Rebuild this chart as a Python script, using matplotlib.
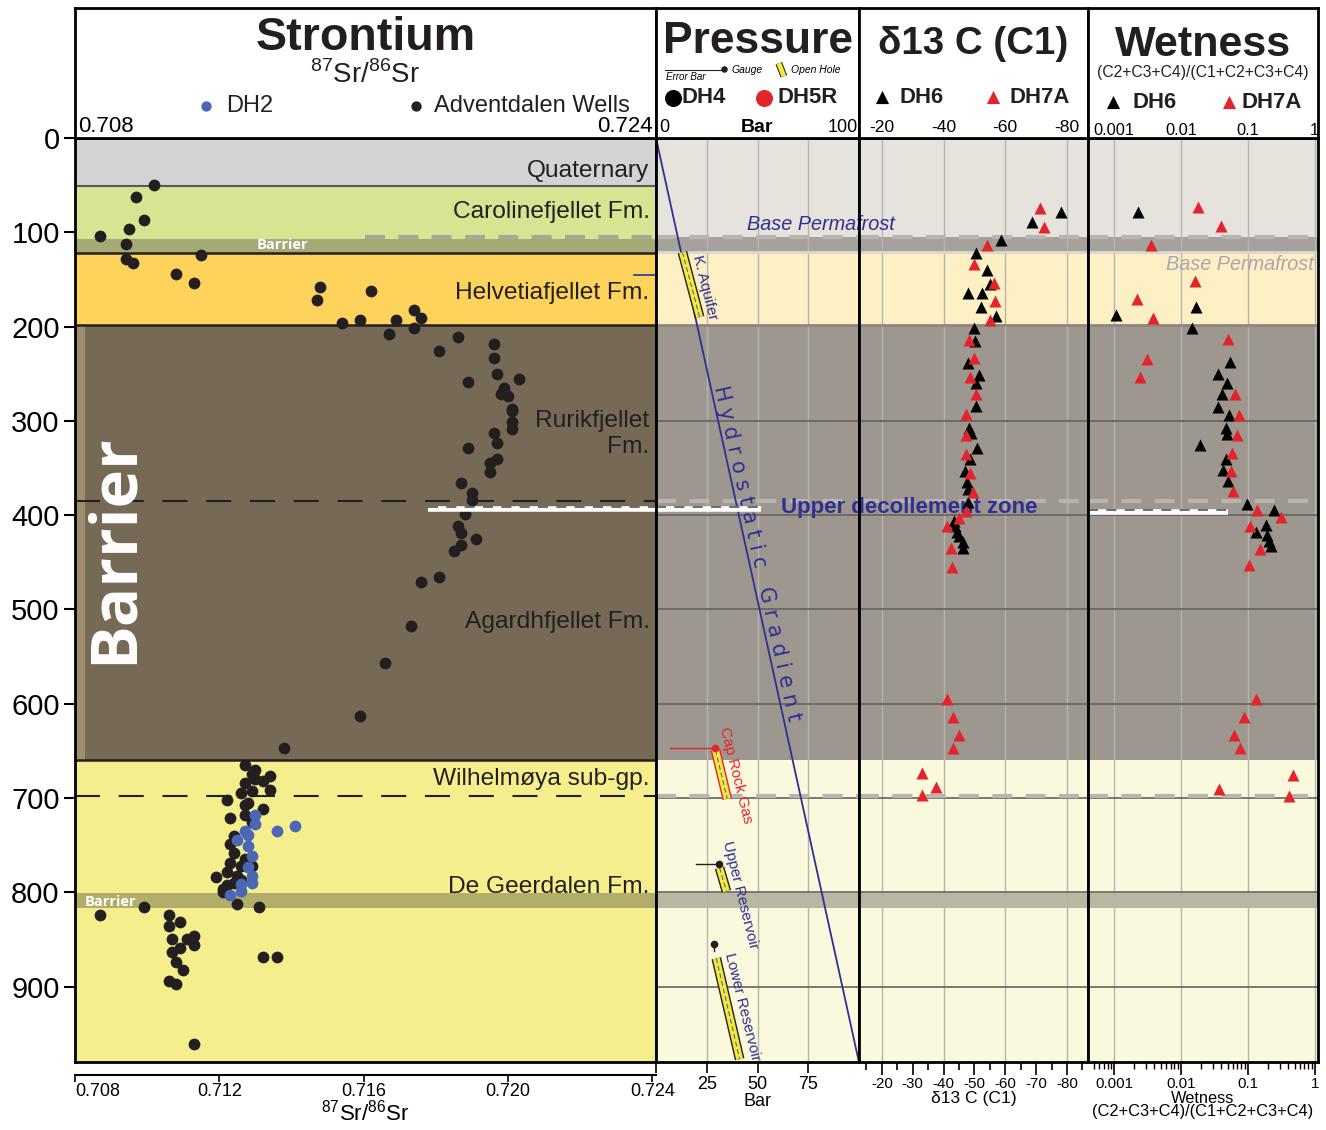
import numpy as np
import matplotlib
matplotlib.use('Agg')
import matplotlib.pyplot as plt
import matplotlib.transforms as mtransforms
import matplotlib.patheffects as pe
from matplotlib import font_manager

# fonts: condensed family for titles / formation names if it exists
names = set(f.name for f in font_manager.fontManager.ttflist)
NARROW = 'Liberation Sans Narrow' in names
COND = 'Liberation Sans Narrow' if NARROW else 'Liberation Sans'
def fs(size):
    return size if NARROW else size * 0.84

plt.rcParams['font.family'] = ['Liberation Sans', 'DejaVu Sans']
plt.rcParams['mathtext.fontset'] = 'custom'
plt.rcParams['mathtext.rm'] = 'Liberation Sans'

# ---------------- data ----------------
DEPTH_MAX = 980
depth_ticks = [0, 100, 200, 300, 400, 500, 600, 700, 800, 900]

# 87Sr/86Sr, Adventdalen wells
sr_adv_ratio = [0.7102, 0.7097, 0.7099, 0.7095, 0.7087, 0.7094, 0.7094, 0.7096, 0.7115, 0.7108,
                0.7113, 0.7148, 0.7147, 0.7162, 0.7154, 0.7159, 0.7169, 0.7174, 0.7176, 0.7174,
                0.7167, 0.7181, 0.7186, 0.7196, 0.7196, 0.7189, 0.7197, 0.7203, 0.7199, 0.7198,
                0.7200, 0.7201, 0.7201, 0.7201, 0.7201, 0.7196, 0.7197, 0.7189, 0.7197, 0.7195,
                0.7195, 0.7187, 0.7190, 0.7190, 0.7188, 0.7186, 0.7187, 0.7191, 0.7187, 0.7185,
                0.7181, 0.7176, 0.7173, 0.7166, 0.7159, 0.7138,
                0.7127, 0.7134, 0.7130, 0.7129, 0.7130, 0.7132, 0.7127, 0.7126, 0.7129, 0.7134,
                0.7122, 0.7127, 0.7132, 0.7128, 0.7123, 0.7127, 0.7129, 0.7124, 0.7123, 0.7124,
                0.7123, 0.7127, 0.7126, 0.7129, 0.7119, 0.7122, 0.7125, 0.7124, 0.7122, 0.7126,
                0.7121, 0.7121, 0.7125, 0.7131, 0.7099, 0.7087, 0.7106, 0.7109, 0.7106, 0.7113,
                0.7107, 0.7111, 0.7113, 0.7109, 0.7107, 0.7108, 0.7110, 0.7106, 0.7108, 0.7132,
                0.7136, 0.7113]
sr_adv_depth = [50, 63, 87, 96, 104, 112, 128, 133, 124, 144,
                154, 158, 172, 162, 196, 193, 193, 182, 191, 202,
                208, 226, 211, 219, 233, 259, 250, 256, 265, 271,
                274, 287, 290, 301, 309, 313, 323, 329, 340, 345,
                354, 366, 376, 384, 399, 411, 419, 425, 432, 438,
                466, 471, 518, 557, 613, 647,
                665, 677, 670, 675, 680, 682, 684, 695, 693, 691,
                702, 707, 712, 705, 721, 718, 725, 740, 749, 758,
                769, 765, 772, 772, 784, 778, 783, 790, 792, 787,
                797, 800, 812, 816, 816, 824, 824, 831, 836, 846,
                850, 850, 856, 859, 863, 874, 882, 894, 897, 869,
                869, 961]

# 87Sr/86Sr, DH2
sr_dh2_ratio = [0.7130, 0.7130, 0.7136, 0.7141, 0.7127, 0.7128, 0.7125, 0.7128, 0.7129, 0.7128,
                0.7129, 0.7129, 0.7126, 0.7126, 0.7123]
sr_dh2_depth = [718, 728, 735, 730, 735, 739, 745, 751, 761, 773,
                783, 790, 791, 799, 803]

# d13C (C1)
d13c_dh6_val = [-78.2, -68.6, -58.6, -50.6, -54.2, -54.9, -47.8, -52.5, -52.2, -56.9,
                -49.7, -50.1, -47.8, -51.5, -50.6, -50.6, -48.2, -49.0, -50.8, -48.7,
                -46.8, -47.5, -48.0, -48.0, -43.6, -43.3, -44.3, -45.1, -46.4, -46.4]
d13c_dh6_depth = [79, 89, 108, 122, 140, 155, 164, 164, 179, 189,
                  201, 215, 239, 251, 260, 284, 308, 313, 329, 340,
                  353, 365, 372, 386, 411, 406, 418, 422, 429, 435]
d13c_dh7a_val = [-71.3, -72.5, -54.2, -49.7, -56.2, -56.7, -54.9, -48.2, -49.9, -48.7,
                 -50.6, -47.3, -47.3, -47.3, -48.7, -49.4, -47.3, -44.9, -41.2, -42.3,
                 -42.6, -41.2, -43.2, -45.0, -43.2, -32.9, -37.4, -32.9]
d13c_dh7a_depth = [74, 94, 113, 134, 154, 173, 193, 214, 233, 253,
                   272, 293, 315, 335, 355, 375, 396, 403, 412, 435,
                   455, 595, 614, 633, 647, 674, 688, 697]

# Wetness (C2+C3+C4)/(C1+C2+C3+C4)
wet_dh6_val = [0.00231, 0.0166, 0.00106, 0.0148, 0.0542, 0.0356, 0.0487, 0.0414, 0.0361, 0.0518,
               0.0467, 0.0481, 0.0193, 0.0467, 0.042, 0.0502, 0.0986, 0.249, 0.185, 0.133,
               0.193, 0.208, 0.224]
wet_dh6_depth = [79, 179, 188, 201, 238, 250, 260, 271, 285, 294,
                 308, 314, 326, 340, 352, 364, 388, 395, 410, 418,
                 421, 427, 433]
wet_dh7a_val = [0.0177, 0.0402, 0.00357, 0.0164, 0.00224, 0.00384, 0.0502, 0.00316, 0.00245, 0.0649,
                0.0741, 0.0678, 0.0583, 0.0566, 0.0611, 0.139, 0.312, 0.109, 0.150, 0.103,
                0.133, 0.0887, 0.0619, 0.0753, 0.473, 0.0372, 0.42]
wet_dh7a_depth = [73, 93, 113, 152, 171, 191, 213, 234, 253, 272,
                  294, 315, 334, 353, 374, 395, 402, 411, 436, 453,
                  595, 614, 633, 647, 676, 690, 698]

# pressure: open hole intervals and gauges
oh_names = ['K. Aquifer', 'Cap Rock Gas', 'Upper Reservoir', 'Lower Reservoir']
oh_p_top = [13.0, 29.3, 31.3, 29.7]
oh_p_bot = [21.5, 35.1, 34.7, 41.2]
oh_d_top = [121, 649, 774, 870]
oh_d_bot = [190, 701, 799, 977]
gauge_p = [29.3, 30.8, 28.7]
gauge_d = [647, 770, 855]
gauge_err_lo = [7.1, 19.6, 28.7]
HYDRO_GRAD = 0.102  # bar per m

# stratigraphy
fm_names = ['Quaternary', 'Carolinefjellet Fm.', 'Helvetiafjellet Fm.', 'Rurikfjellet\nFm.',
            'Agardhfjellet Fm.', 'Wilhelmøya sub-gp.', 'De Geerdalen Fm.']
fm_label_depth = [35, 79, 164, 314, 513, 680, 794]
sr_zone_top = [0, 51, 107, 122, 198, 660]
sr_zone_bot = [51, 107, 122, 198, 660, DEPTH_MAX]
rp_zone_top = [0, 105, 121, 198, 660]
rp_zone_bot = [105, 121, 198, 660, DEPTH_MAX]
lower_barrier = (801, 817)
base_permafrost = 105
dashed_levels = [385, 698]
decollement_depth = 393

# ---------------- styles ----------------
SR_COLORS = ['#d1d3d4', '#d7e592', '#a4aa76', '#fdd35b', '#766a56', '#f4ef8c']
RP_COLORS = ['#e6e2dc', '#a5a19c', '#fdf0c4', '#9e9790', '#fbf9dd']
NAVY = '#2e3192'
RED = '#e3242b'
BLK = '#231f20'
BLUE = '#4a66b4'
YEL = '#f1e842'

W, H = 1326, 1130
def box(x0, y0, x1, y1):
    return [x0 / W, 1 - y1 / H, (x1 - x0) / W, (y1 - y0) / H]

fig = plt.figure(figsize=(W / 100, H / 100), dpi=100)
ax_sr = fig.add_axes(box(75, 138, 656, 1062))
ax_pr = fig.add_axes(box(656, 138, 859, 1062))
ax_dc = fig.add_axes(box(859, 138, 1088, 1062))
ax_wt = fig.add_axes(box(1088, 138, 1318, 1062))
hd_sr = fig.add_axes(box(75, 8, 656, 138))
hd_pr = fig.add_axes(box(656, 8, 859, 138))
hd_dc = fig.add_axes(box(859, 8, 1088, 138))
hd_wt = fig.add_axes(box(1088, 8, 1318, 138))

data_axes = [ax_sr, ax_pr, ax_dc, ax_wt]
right_axes = [ax_pr, ax_dc, ax_wt]
for ax in data_axes:
    ax.set_ylim(DEPTH_MAX, 0)
    for s in ax.spines.values():
        s.set_linewidth(2)
        s.set_color('black')
        s.set_zorder(10)
ax_sr.set_xlim(0.708, 0.7241)
ax_pr.set_xlim(0, 100)
ax_dc.set_xlim(-12.6, -86.8)
ax_wt.set_xscale('log')
ax_wt.set_xlim(10 ** -3.39, 10 ** 0.05)

for hd in [hd_sr, hd_pr, hd_dc, hd_wt]:
    hd.set_xlim(0, 1)
    hd.set_ylim(0, 1)
    hd.set_xticks([])
    hd.set_yticks([])
    for s in hd.spines.values():
        s.set_linewidth(2)

# ---------------- Sr panel ----------------
for top, bot, c in zip(sr_zone_top, sr_zone_bot, SR_COLORS):
    ax_sr.axhspan(top, bot, color=c, lw=0, zorder=0)
ax_sr.axhspan(lower_barrier[0], lower_barrier[1], color='#b3ad6b', lw=0, zorder=0.5)
ax_sr.fill_betweenx([198, 660], 0.708, 0.70828, color='#a08e6e', lw=0, zorder=0.5)
ax_sr.axhline(sr_zone_top[1], color='#58595b', lw=1.5, zorder=1)
for d in [122, 198, 660]:
    ax_sr.axhline(d, color=BLK, lw=1.8, zorder=1)
for d in dashed_levels:
    ax_sr.axhline(d, color=BLK, lw=1.5, ls=(0, (12, 9)), zorder=1)
ax_sr.plot([0.71603, 0.7241], [base_permafrost, base_permafrost], color='#a8a79a', lw=3,
           ls=(0, (4.8, 3.2)), zorder=1)

for name, d in zip(fm_names, fm_label_depth):
    ax_sr.text(0.72392, d, name, ha='right', va='center', fontsize=fs(21), family=COND,
               color=BLK, multialignment='right', linespacing=1.25, zorder=3)

ax_sr.text(0.7091, 436, 'Barrier', rotation=90, ha='center', va='center', color='white',
           fontsize=47, fontweight='bold', family=['Open Sans', 'DejaVu Sans'], zorder=3)
ax_sr.text(0.71376, 113, 'Barrier', ha='center', va='center', color='white',
           fontsize=10.5, fontweight='bold', family=['Open Sans', 'DejaVu Sans'], zorder=3)
ax_sr.text(0.70828, 810, 'Barrier', ha='left', va='center', color='white',
           fontsize=10.5, fontweight='bold', family=['Open Sans', 'DejaVu Sans'], zorder=3)

ax_sr.scatter(sr_adv_ratio, sr_adv_depth, s=72, color=BLK, lw=0, zorder=5)
ax_sr.scatter(sr_dh2_ratio, sr_dh2_depth, s=72, color=BLUE, lw=0, zorder=6)
ax_sr.plot([0.7235, 0.7241], [145, 145], color=NAVY, lw=1.2, zorder=4, clip_on=False)

# decollement marker line
for ax, x0, x1 in [(ax_sr, 0.71777, 0.7241), (ax_pr, 0, 51.5)]:
    ax.plot([x0, x1], [decollement_depth, decollement_depth], color='white', lw=4, zorder=7,
            solid_capstyle='butt')
    ax.plot([x0, x1], [decollement_depth - 2, decollement_depth - 2], color='#555555', lw=1.2,
            ls=(0, (6, 5)), zorder=7)

ax_sr.set_yticks(depth_ticks)
ax_sr.tick_params(axis='y', labelsize=21, length=8, width=1.5, pad=3)
ax_sr.set_xticks([0.708, 0.712, 0.716, 0.720, 0.724])
ax_sr.set_xticklabels(['0.708', '0.712', '0.716', '0.720', '0.724'])
ax_sr.spines['bottom'].set_position(('outward', 9))
ax_sr.spines['bottom'].set_linewidth(1.5)
ax_sr.axhline(DEPTH_MAX, color='black', lw=2, zorder=10, clip_on=False)
ax_sr.tick_params(axis='x', labelsize=13, length=5, width=1.2, pad=1)
ax_sr.get_xticklabels()[0].set_ha('left')
ax_sr.set_xlabel('$^{87}$Sr/$^{86}$Sr', fontsize=16, labelpad=0)

# ---------------- right panels background ----------------
for ax in right_axes:
    for top, bot, c in zip(rp_zone_top, rp_zone_bot, RP_COLORS):
        ax.axhspan(top, bot, color=c, lw=0, zorder=0)
    ax.axhspan(lower_barrier[0], lower_barrier[1], color='#b9b7a1', lw=0, zorder=0.5)
    ax.axhline(121, color='#dad6d0', lw=2, zorder=1)
    ax.axhline(198, color='#8d8780', lw=2, zorder=1)
    for d in range(300, 1000, 100):
        ax.axhline(d, color='#66625e', lw=1.2, zorder=1)
    for d in [base_permafrost] + dashed_levels:
        ax.axhline(d, color='#b8b4af', lw=3, ls=(0, (4.8, 3.2)), zorder=1.5)
    ax.tick_params(axis='y', left=False, labelleft=False)

for v in [25, 50, 75]:
    ax_pr.axvline(v, color='#b7b3ae', lw=1, zorder=0.8)
for v in [-20, -40, -60, -80]:
    ax_dc.axvline(v, color='#b7b3ae', lw=1, zorder=0.8)
for v in [0.001, 0.01, 0.1, 1]:
    ax_wt.axvline(v, color='#b7b3ae', lw=1, zorder=0.8)

# ---------------- pressure ----------------
hyd_depth = np.array([0, DEPTH_MAX])
ax_pr.plot(hyd_depth * HYDRO_GRAD, hyd_depth, color=NAVY, lw=1.3, zorder=4)
ax_pr.text(49.5, 440, 'H y d r o s t a t i c   G r a d i e n t', rotation=-77.5,
           rotation_mode='anchor', ha='center', va='center', color=NAVY, fontsize=15,
           family='DejaVu Sans', zorder=4)

oh_edge = [BLK, RED, BLK, BLK]
oh_text_color = [NAVY, RED, NAVY, NAVY]
oh_text_pos = [(24, 158), (39.5, 676), (41.5, 803), (42.5, 922)]
for i in range(len(oh_names)):
    p = [oh_p_top[i], oh_p_bot[i]]
    d = [oh_d_top[i], oh_d_bot[i]]
    ax_pr.plot(p, d, color=YEL, lw=5, solid_capstyle='butt', zorder=5,
               path_effects=[pe.Stroke(linewidth=7, foreground=oh_edge[i]), pe.Normal()])
    ax_pr.plot(p, d, color='#4a5a8a', lw=0.7, ls=(0, (5, 3)), zorder=6)
    tx, ty = oh_text_pos[i]
    ax_pr.text(tx, ty, oh_names[i], rotation=-76, rotation_mode='anchor', ha='center',
               va='center', color=oh_text_color[i], fontsize=11, zorder=6)

gauge_col = [RED, BLK, BLK]
for i in range(len(gauge_p)):
    ax_pr.plot([gauge_err_lo[i], gauge_p[i]], [gauge_d[i], gauge_d[i]], color=gauge_col[i],
               lw=1, zorder=6)
    ax_pr.scatter([gauge_p[i]], [gauge_d[i]], s=30, color=gauge_col[i], lw=0, zorder=7)
ax_pr.plot([gauge_p[2], gauge_p[2]], [gauge_d[2], gauge_d[2] + 7], color=BLK, lw=1, zorder=6)

ax_pr.set_xticks([0, 25, 50, 75])
ax_pr.set_xticklabels(['', '25', '50', '75'])
ax_pr.tick_params(axis='x', labelsize=13, length=8, width=1.2, pad=2)
ax_pr.set_xlabel('Bar', fontsize=13, labelpad=0)

# ---------------- d13C ----------------
ax_dc.scatter(d13c_dh6_val, d13c_dh6_depth, marker='^', s=75, color='black', lw=0, zorder=5)
ax_dc.scatter(d13c_dh7a_val, d13c_dh7a_depth, marker='^', s=75, color=RED, lw=0, zorder=5)
ax_dc.set_xticks(np.arange(-20, -81, -10))
ax_dc.set_xticklabels([str(v) for v in np.arange(-20, -81, -10)])
ax_dc.set_xticks(np.arange(-15, -86, -10), minor=True)
ax_dc.tick_params(axis='x', which='major', labelsize=fs(13), length=9, width=1.2, pad=2)
ax_dc.tick_params(axis='x', which='minor', length=6, width=1.2)
for lab in ax_dc.get_xticklabels():
    lab.set_family(COND)
ax_dc.set_xlabel('δ13 C (C1)', fontsize=fs(15), family=COND, labelpad=0)

# texts spanning pressure and d13C panels (drawn on d13C axes, placed in pressure coords)
ax_dc.text(45, 92, 'Base Permafrost', transform=ax_pr.transData, ha='left', va='center',
           color=NAVY, fontsize=fs(17), family=COND, style='italic', zorder=3)
ax_dc.text(61.5, 392, 'Upper decollement zone', transform=ax_pr.transData, ha='left',
           va='center', color=NAVY, fontsize=16, fontweight='bold', zorder=3)

# ---------------- wetness ----------------
ax_wt.scatter(wet_dh6_val, wet_dh6_depth, marker='^', s=75, color='black', lw=0, zorder=5)
ax_wt.scatter(wet_dh7a_val, wet_dh7a_depth, marker='^', s=75, color=RED, lw=0, zorder=5)
ax_wt.text(0.966, 134, 'Base Permafrost', ha='right', va='center', color='#aaa6ab',
           fontsize=fs(17), family=COND, style='italic', zorder=3)
ax_wt.plot([10 ** -3.39, 0.05], [397, 397], color='white', lw=4, zorder=7, solid_capstyle='butt')
ax_wt.plot([10 ** -3.39, 0.05], [395, 395], color='#555555', lw=1.2, ls=(0, (6, 5)), zorder=7)
ax_wt.set_xticks([0.001, 0.01, 0.1, 1])
ax_wt.set_xticklabels(['0.001', '0.01', '0.1', '1'])
ax_wt.tick_params(axis='x', which='major', labelsize=fs(13), length=9, width=1.2, pad=2)
ax_wt.tick_params(axis='x', which='minor', length=5, width=1)
for lab in ax_wt.get_xticklabels():
    lab.set_family(COND)
ax_wt.set_xlabel('Wetness\n(C2+C3+C4)/(C1+C2+C3+C4)', fontsize=fs(14), family=COND,
                 labelpad=0, linespacing=0.85)

# ---------------- headers ----------------
def top_label(hd, ax, v, s, y, ha='center', dx=0, **kw):
    tr = mtransforms.offset_copy(mtransforms.blended_transform_factory(ax.transData, hd.transAxes),
                                 fig=fig, x=dx, y=0, units='dots')
    hd.text(v, y, s, transform=tr, ha=ha, va='center', **kw)

# Strontium
hd_sr.text(0.5, 0.77, 'Strontium', ha='center', va='center', fontsize=fs(40),
           fontweight='bold', family=COND, color=BLK)
hd_sr.text(0.5, 0.485, '$^{87}$Sr/$^{86}$Sr', ha='center', va='center', fontsize=20, color=BLK)
hd_sr.scatter([0.2255], [0.246], s=55, color=BLUE, lw=0)
hd_sr.text(0.26, 0.246, 'DH2', ha='left', va='center', fontsize=17, color=BLK)
hd_sr.scatter([0.587], [0.246], s=55, color=BLK, lw=0)
hd_sr.text(0.618, 0.246, 'Adventdalen Wells', ha='left', va='center', fontsize=17, color=BLK)
top_label(hd_sr, ax_sr, 0.708, '0.708', 0.09, ha='left', dx=3, fontsize=16)
top_label(hd_sr, ax_sr, 0.7241, '0.724', 0.09, ha='right', dx=-3, fontsize=16)

# Pressure
hd_pr.text(0.5, 0.74, 'Pressure', ha='center', va='center', fontsize=fs(38),
           fontweight='bold', family=COND, color=BLK)
hd_pr.plot([0.044, 0.33], [0.523, 0.523], color=BLK, lw=0.8)
hd_pr.scatter([0.335], [0.527], s=22, color=BLK, lw=0, zorder=3)
hd_pr.text(0.05, 0.47, 'Error Bar', ha='left', va='center', fontsize=7, style='italic')
hd_pr.text(0.37, 0.52, 'Gauge', ha='left', va='center', fontsize=7.5, style='italic')
hd_pr.plot([0.605, 0.63], [0.575, 0.475], color=YEL, lw=3.5, solid_capstyle='butt',
           path_effects=[pe.Stroke(linewidth=5, foreground=BLK), pe.Normal()])
hd_pr.text(0.665, 0.52, 'Open Hole', ha='left', va='center', fontsize=7.5, style='italic')
hd_pr.scatter([0.084], [0.31], s=150, color='black', lw=0)
hd_pr.text(0.128, 0.31, 'DH4', ha='left', va='center', fontsize=fs(19), fontweight='bold',
           family=COND, color=BLK)
hd_pr.scatter([0.532], [0.31], s=150, color=RED, lw=0)
hd_pr.text(0.6, 0.31, 'DH5R', ha='left', va='center', fontsize=fs(19), fontweight='bold',
           family=COND, color=BLK)
top_label(hd_pr, ax_pr, 0, '0', 0.08, ha='left', dx=3, fontsize=13)
top_label(hd_pr, ax_pr, 50, 'Bar', 0.08, fontsize=14, fontweight='bold')
top_label(hd_pr, ax_pr, 100, '100', 0.08, ha='right', dx=-1, fontsize=13)

# d13C
hd_dc.text(0.5, 0.72, 'δ13 C (C1)', ha='center', va='center', fontsize=fs(33),
           fontweight='bold', family=COND, color=BLK)
hd_dc.scatter([0.1], [0.315], marker='^', s=90, color='black', lw=0)
hd_dc.text(0.178, 0.31, 'DH6', ha='left', va='center', fontsize=fs(19), fontweight='bold',
           family=COND, color=BLK)
hd_dc.scatter([0.585], [0.315], marker='^', s=90, color=RED, lw=0)
hd_dc.text(0.658, 0.31, 'DH7A', ha='left', va='center', fontsize=fs(19), fontweight='bold',
           family=COND, color=BLK)
for v in [-20, -40, -60, -80]:
    top_label(hd_dc, ax_dc, v, str(v), 0.08, fontsize=fs(15), family=COND)

# Wetness
hd_wt.text(0.5, 0.715, 'Wetness', ha='center', va='center', fontsize=fs(37),
           fontweight='bold', family=COND, color=BLK)
hd_wt.text(0.5, 0.5, '(C2+C3+C4)/(C1+C2+C3+C4)', ha='center', va='center', fontsize=fs(13.5),
           family=COND, color=BLK)
hd_wt.scatter([0.109], [0.28], marker='^', s=90, color='black', lw=0)
hd_wt.text(0.195, 0.275, 'DH6', ha='left', va='center', fontsize=fs(19), fontweight='bold',
           family=COND, color=BLK)
hd_wt.scatter([0.613], [0.28], marker='^', s=90, color=RED, lw=0)
hd_wt.text(0.668, 0.275, 'DH7A', ha='left', va='center', fontsize=fs(19), fontweight='bold',
           family=COND, color=BLK)
for v, s in zip([0.001, 0.01, 0.1, 1], ['0.001', '0.01', '0.1', '1']):
    top_label(hd_wt, ax_wt, v, s, 0.06, fontsize=fs(14), family=COND)

fig.savefig('out.png', dpi=100)
